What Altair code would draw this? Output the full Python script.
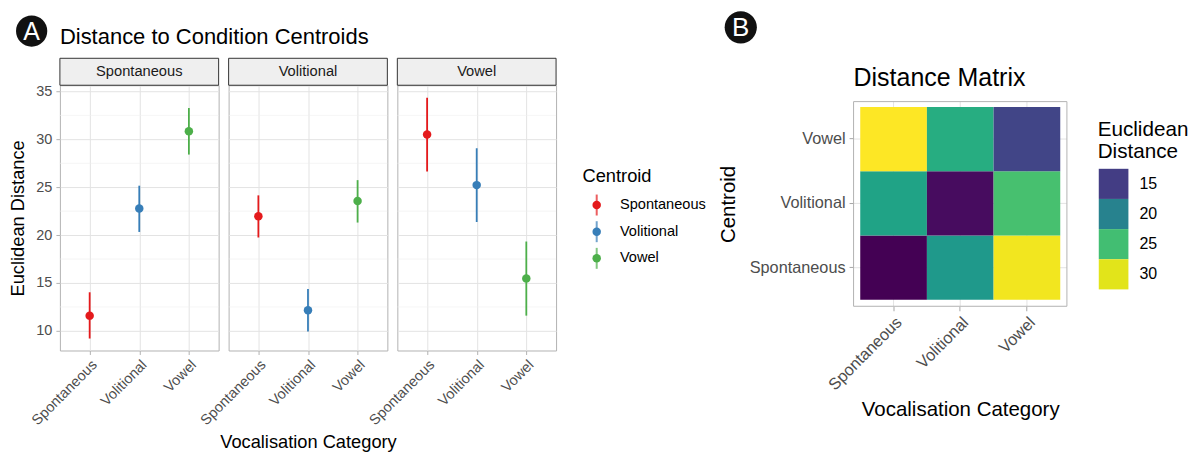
import altair as alt
import pandas as pd

FONT = "Liberation Sans"

# ---------------- data ----------------
centroids = ["Spontaneous", "Volitional", "Vowel"]
vocalisations = ["Spontaneous", "Volitional", "Vowel"]
centroid_colors = ["#E41A1C", "#377EB8", "#4DAF4A"]

# distance of each vocalisation category (facet) to each centroid
mean_spontaneous = [11.59, 22.77, 30.84]
low_spontaneous = [9.20, 20.33, 28.41]
high_spontaneous = [14.03, 25.16, 33.27]

mean_volitional = [21.96, 12.15, 23.56]
low_volitional = [19.75, 9.93, 21.31]
high_volitional = [24.15, 14.37, 25.74]

mean_vowel = [30.50, 25.22, 15.48]
low_vowel = [26.65, 21.37, 11.59]
high_vowel = [34.34, 29.07, 19.33]

y_major_ticks = [10, 15, 20, 25, 30, 35]
y_minor_ticks = [12.5, 17.5, 22.5, 27.5, 32.5]
y_domain = [7.95, 35.65]
legend_breaks = [15, 20, 25, 30]

means = [mean_spontaneous, mean_volitional, mean_vowel]
lows = [low_spontaneous, low_volitional, low_vowel]
highs = [high_spontaneous, high_volitional, high_vowel]

rows = []
for v, m, lo, hi in zip(vocalisations, means, lows, highs):
    for c, mm, ll, hh in zip(centroids, m, lo, hi):
        rows.append({"vocalisation": v, "centroid": c, "mean": mm, "low": ll, "high": hh})
df = pd.DataFrame(rows)
vmin, vmax = float(df["mean"].min()), float(df["mean"].max())

# ---------------- panel A ----------------
PW, PH = 159, 265.7
x_scale = alt.Scale(type="point", domain=centroids, padding=0.6)
y_scale = alt.Scale(domain=y_domain, nice=False, zero=False)
col_scale = alt.Scale(domain=centroids, range=centroid_colors)
GRID = "#e3e3e3"


def x_axis(show_title):
    kw = dict(labelAngle=-45, labelAlign="right", labelBaseline="top", labelFontSize=14.5,
              labelColor="#4d4d4d", labelPadding=3, tickColor="#b3b3b3", tickSize=4, tickWidth=1,
              domain=False, grid=True, gridColor=GRID, gridWidth=1)
    if show_title:
        kw.update(title="Vocalisation Category", titleFontSize=18.3, titleFontWeight="normal",
                  titleColor="#000000", titleX=PW / 2, titleY=92, titleBaseline="middle",
                  titleAlign="center")
    else:
        kw.update(title=None)
    return alt.Axis(**kw)


def y_axis(first):
    if first:
        return alt.Axis(values=y_major_ticks, title="Euclidean Distance", titleFontSize=18.3,
                        titleFontWeight="normal", titleColor="#000000", titleX=-41, titleY=PH / 2,
                        titleBaseline="middle", titleAlign="center", titleAngle=270,
                        labelFontSize=14.5, labelColor="#4d4d4d", labelPadding=4,
                        tickColor="#b3b3b3", tickSize=4, domain=False, grid=True,
                        gridColor=GRID, gridWidth=1)
    return alt.Axis(values=y_major_ticks, title=None, labels=False, ticks=False, domain=False,
                    grid=True, gridColor=GRID, gridWidth=1)


def panel(i, voc):
    sub = df[df["vocalisation"] == voc]
    xa = x_axis(i == 1)
    ya = y_axis(i == 0)
    layers = []
    if i == 0:
        # invisible frame fixing the page bounds
        layers.append(alt.Chart(pd.DataFrame({"a": [0]})).mark_rect(opacity=0).encode(
            x=alt.value(-59), x2=alt.value(1138), y=alt.value(-84.3), y2=alt.value(368.7)))
    minor = alt.Chart(pd.DataFrame({"v": y_minor_ticks})).mark_rule(
        color="#efefef", strokeWidth=0.6).encode(
        y=alt.Y("v:Q", scale=y_scale, axis=ya))
    bars = alt.Chart(sub).mark_rule(strokeWidth=1.8).encode(
        x=alt.X("centroid:N", scale=x_scale, axis=xa),
        y=alt.Y("low:Q", scale=y_scale, axis=ya),
        y2="high:Q",
        color=alt.Color("centroid:N", scale=col_scale, legend=None))
    pts = alt.Chart(sub).mark_circle(size=72, opacity=1).encode(
        x=alt.X("centroid:N", scale=x_scale, axis=xa),
        y=alt.Y("mean:Q", scale=y_scale, axis=ya),
        color=alt.Color("centroid:N", scale=col_scale, legend=None))
    strip_df = pd.DataFrame({"label": [voc]})
    strip = alt.Chart(strip_df).mark_rect(fill="#efefef", stroke="#333333", strokeWidth=1).encode(
        x=alt.value(0), x2=alt.value(PW), y=alt.value(-27), y2=alt.value(0))
    strip_txt = alt.Chart(strip_df).mark_text(fontSize=14.7, color="#1a1a1a", baseline="middle").encode(
        text="label:N", x=alt.value(PW / 2), y=alt.value(-13))
    layers += [minor, bars, pts, strip, strip_txt]
    if i == 0:
        badge = pd.DataFrame({"t": ["A"]})
        layers.append(alt.Chart(badge).mark_circle(size=980, color="#111111", opacity=1).encode(
            x=alt.value(-28.3), y=alt.value(-54.3)))
        layers.append(alt.Chart(badge).mark_text(fontSize=25, color="white", baseline="middle").encode(
            text="t:N", x=alt.value(-28.3), y=alt.value(-53.5)))
        layers.append(alt.Chart(pd.DataFrame({"t": ["Distance to Condition Centroids"]})).mark_text(
            fontSize=22, color="#000000", align="left", baseline="alphabetic").encode(
            text="t:N", x=alt.value(0), y=alt.value(-41)))
    return alt.layer(*layers).properties(
        width=PW, height=PH, view=alt.ViewBackground(stroke="#b3b3b3", strokeWidth=1))


panels = [panel(i, v) for i, v in enumerate(vocalisations)]

# ---------------- legend A ----------------
LAH = 265.7
leg_df = pd.DataFrame({"centroid": centroids, "order": list(range(len(centroids)))})
leg_y = alt.Scale(domain=[-4.494, -4.494 + LAH / 26.7], reverse=True, nice=False, zero=False)
legA = alt.layer(
    alt.Chart(pd.DataFrame({"t": ["Centroid"]})).mark_text(
        fontSize=18.3, color="#000000", align="left", baseline="alphabetic").encode(
        text="t:N", x=alt.value(16.5), y=alt.value(97.4)),
    alt.Chart(leg_df).mark_tick(orient="vertical", size=21, thickness=2).encode(
        y=alt.Y("order:Q", scale=leg_y, axis=None), x=alt.value(30.7),
        color=alt.Color("centroid:N", scale=col_scale, legend=None)),
    alt.Chart(leg_df).mark_circle(size=72, opacity=1).encode(
        y=alt.Y("order:Q", scale=leg_y, axis=None), x=alt.value(30.7),
        color=alt.Color("centroid:N", scale=col_scale, legend=None)),
    alt.Chart(leg_df).mark_text(fontSize=14.6, color="#000000", align="left", baseline="middle").encode(
        y=alt.Y("order:Q", scale=leg_y, axis=None), x=alt.value(54), text="centroid:N"),
).properties(width=278, height=LAH)

# ---------------- panel B (heatmap) ----------------
HW, HH = 213.7, 221.4
hx = alt.Scale(type="band", domain=vocalisations, paddingInner=0, paddingOuter=0.1, round=False)
hy = alt.Scale(type="band", domain=list(reversed(centroids)), paddingInner=0, paddingOuter=0.218,
               align=0.772, round=False)
heat_color = alt.Scale(scheme="viridis", domain=[vmin, vmax], nice=False)

hx_axis = alt.Axis(title="Vocalisation Category", titleFontSize=20.5, titleFontWeight="normal",
                   titleColor="#000000", titleX=HW / 2, titleY=103.3, titleBaseline="middle",
                   titleAlign="center", labelAngle=-45, labelAlign="right", labelBaseline="top",
                   labelFontSize=16.3, labelColor="#4d4d4d", labelPadding=3, tickColor="#a6a6a6",
                   tickSize=4.5, domain=False, grid=False)
hy_axis = alt.Axis(title="Centroid", titleFontSize=20.5, titleFontWeight="normal",
                   titleColor="#000000", titleX=-125, titleY=118.9, titleBaseline="middle",
                   titleAlign="center", titleAngle=270, labelFontSize=16.3, labelColor="#4d4d4d",
                   labelPadding=4, tickColor="#a6a6a6", tickSize=4.5, domain=False, grid=False)

vgrid = alt.Chart(pd.DataFrame({"vocalisation": vocalisations})).mark_rule(
    color=GRID, strokeWidth=1).encode(
    x=alt.X("vocalisation:N", scale=hx, axis=hx_axis), y=alt.value(16.4), y2=alt.value(HH))
hgrid = alt.Chart(pd.DataFrame({"centroid": centroids})).mark_rule(
    color=GRID, strokeWidth=1).encode(
    y=alt.Y("centroid:N", scale=hy, axis=hy_axis), x=alt.value(0), x2=alt.value(HW))
tiles = alt.Chart(df).mark_rect().encode(
    x=alt.X("vocalisation:N", scale=hx, axis=hx_axis),
    y=alt.Y("centroid:N", scale=hy, axis=hy_axis),
    color=alt.Color("mean:Q", scale=heat_color, legend=None))
frame = alt.Chart(pd.DataFrame({"a": [0]})).mark_rect(fillOpacity=0, stroke="#b3b3b3", strokeWidth=1).encode(
    x=alt.value(0), x2=alt.value(HW), y=alt.value(16.4), y2=alt.value(HH))
badgeB = pd.DataFrame({"t": ["B"]})
heat = alt.layer(
    vgrid, hgrid, tiles, frame,
    alt.Chart(badgeB).mark_circle(size=1040, color="#111111", opacity=1).encode(
        x=alt.value(-113), y=alt.value(-58)),
    alt.Chart(badgeB).mark_text(fontSize=26, color="white", baseline="middle").encode(
        text="t:N", x=alt.value(-113), y=alt.value(-57)),
    alt.Chart(pd.DataFrame({"t": ["Distance Matrix"]})).mark_text(
        fontSize=25, color="#000000", align="left", baseline="alphabetic").encode(
        text="t:N", x=alt.value(0), y=alt.value(0.7)),
).properties(width=HW, height=HH)

# ---------------- legend B ----------------
LBH = 265.7
half = (legend_breaks[1] - legend_breaks[0]) / 2
lb_df = pd.DataFrame({"brk": legend_breaks})
lb_df["lo"] = lb_df["brk"] - half
lb_df["hi"] = lb_df["brk"] + half
px_per_unit = 30.2 / (2 * half)
lb_d0 = (legend_breaks[0] - half) - 83.7 / px_per_unit
lb_y = alt.Scale(domain=[lb_d0, lb_d0 + LBH / px_per_unit], reverse=True, nice=False, zero=False)
legB = alt.layer(
    alt.Chart(pd.DataFrame({"t": ["Euclidean\nDistance"]})).mark_text(
        fontSize=20.7, color="#000000", align="left", baseline="alphabetic", lineBreak="\n",
        lineHeight=21.5).encode(text="t:N", x=alt.value(20.5), y=alt.value(51.3)),
    alt.Chart(lb_df).mark_rect().encode(
        y=alt.Y("lo:Q", scale=lb_y, axis=None), y2="hi:Q", x=alt.value(21.6), x2=alt.value(51.3),
        color=alt.Color("brk:Q", scale=heat_color, legend=None)),
    alt.Chart(lb_df).mark_text(fontSize=16, color="#000000", align="left", baseline="middle").encode(
        y=alt.Y("brk:Q", scale=lb_y, axis=None), x=alt.value(62.3), text="brk:Q"),
).properties(width=100, height=LBH)

chart = alt.hconcat(*panels, legA, heat, legB, spacing=10, bounds="flush").resolve_scale(
    color="independent").properties(padding=0).configure(font=FONT).configure_view(
    stroke="transparent")

chart.save("out.html", embed_options={"renderer": "svg", "actions": False})
